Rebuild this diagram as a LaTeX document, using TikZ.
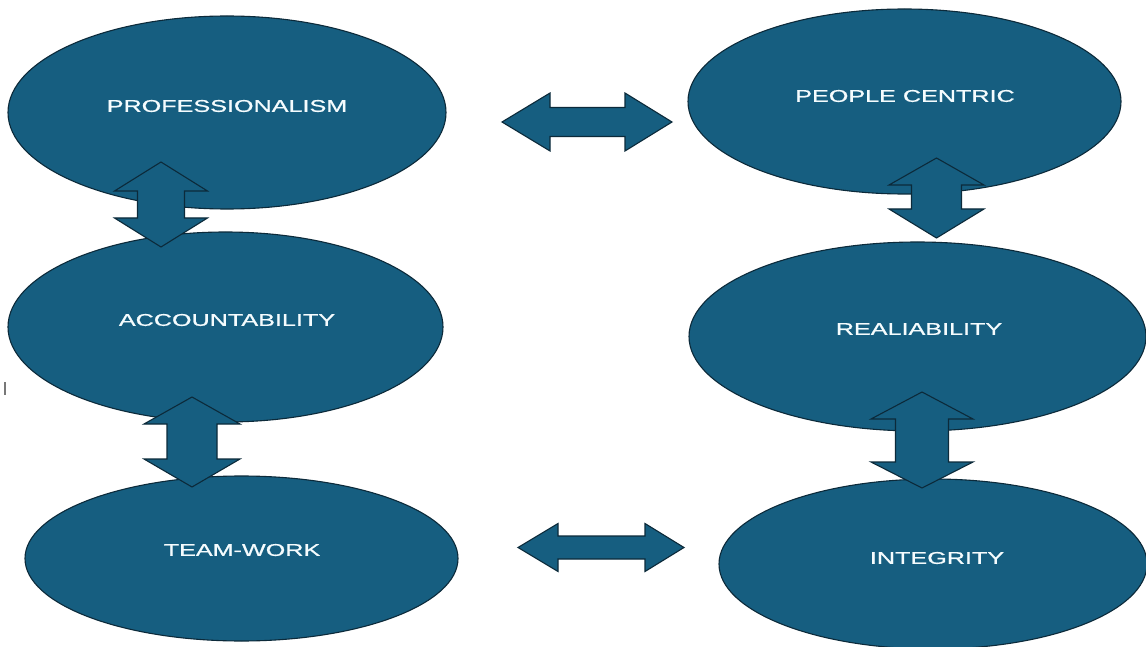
\documentclass[tikz,border=0pt]{standalone}
\usepackage{fontspec}
\usepackage{graphicx}
\setmainfont{Liberation Sans}
\newfontfamily\lblfont[FakeBold=0.7]{Liberation Sans}
\usetikzlibrary{shapes.geometric}
\definecolor{fillblue}{RGB}{22,94,128}
\definecolor{edgeblue}{RGB}{12,42,58}
\definecolor{marksgrey}{RGB}{120,120,120}
\tikzset{
  ell/.style={ellipse, draw=edgeblue, line width=1.1pt, fill=fillblue, inner sep=0pt},
  lbl/.style={text=white!96!cyan, font=\lblfont\fontsize{17}{20}\selectfont, inner sep=0pt},
  blockarrow/.style={draw=edgeblue, line width=1.1pt, fill=fillblue, line join=miter},
}
% vertical double block arrow: x, ytop, ybot, headhalf, shafthalf, toplen, botlen
\newcommand{\vdblarr}[7]{%
  \draw[blockarrow] (#1,#2) -- (#1+#4,#2+#6) -- (#1+#5,#2+#6) -- (#1+#5,#3-#7)
    -- (#1+#4,#3-#7) -- (#1,#3) -- (#1-#4,#3-#7) -- (#1-#5,#3-#7)
    -- (#1-#5,#2+#6) -- (#1-#4,#2+#6) -- cycle;}
% horizontal double block arrow: y, xleft, xright, headhalf, shafthalf, leftlen, rightlen
\newcommand{\hdblarr}[7]{%
  \draw[blockarrow] (#2,#1) -- (#2+#6,#1-#4) -- (#2+#6,#1-#5) -- (#3-#7,#1-#5)
    -- (#3-#7,#1-#4) -- (#3,#1) -- (#3-#7,#1+#4) -- (#3-#7,#1+#5)
    -- (#2+#6,#1+#5) -- (#2+#6,#1+#4) -- cycle;}
\newcommand{\wlabel}[1]{\scalebox{1.48}[1]{#1}}
\begin{document}
\begin{tikzpicture}[x=1pt,y=-1pt]
\useasboundingbox (0,0) rectangle (1146,647);
\fill[white] (0,0) rectangle (1146,647);

% ellipses
\node[ell, minimum width=438pt, minimum height=193pt] (prof) at (227,112.5) {};
\node[ell, minimum width=433pt, minimum height=185pt] (people) at (904.5,101.5) {};
\node[ell, minimum width=435pt, minimum height=190pt] (acc) at (225.5,327) {};
\node[ell, minimum width=457pt, minimum height=189pt] (real) at (917.5,336.5) {};
\node[ell, minimum width=433pt, minimum height=165pt] (team) at (241.5,558.5) {};
\node[ell, minimum width=428pt, minimum height=170pt] (integ) at (933,564) {};

% labels
\node[lbl] (proft) at (227,106) {\wlabel{PROFESSIONALISM}};
\node[lbl] (peoplet) at (905,96) {\wlabel{PEOPLE CENTRIC}};
\node[lbl] (acct) at (227,320) {\wlabel{ACCOUNTABILITY}};
\node[lbl] (realt) at (919,329) {\wlabel{REALIABILITY}};
\node[lbl] (teamt) at (242,550) {\wlabel{TEAM-WORK}};
\node[lbl] (integt) at (937,558) {\wlabel{INTEGRITY}};

% block arrows
\vdblarr{161}{162}{247}{46.5}{23.5}{29}{29}
\vdblarr{936.5}{158}{238}{47.5}{25}{27}{29}
\vdblarr{192}{397}{487}{48}{25}{27}{28}
\vdblarr{922}{392}{488}{51}{26.5}{27}{26}
\hdblarr{122}{502}{672}{29}{14.5}{48}{47}
\hdblarr{547.5}{518}{684}{24}{11.5}{40}{39}

% small stray mark at left
\draw[marksgrey, line width=1.2pt] (5,382) -- (5,395);
\end{tikzpicture}
\end{document}
